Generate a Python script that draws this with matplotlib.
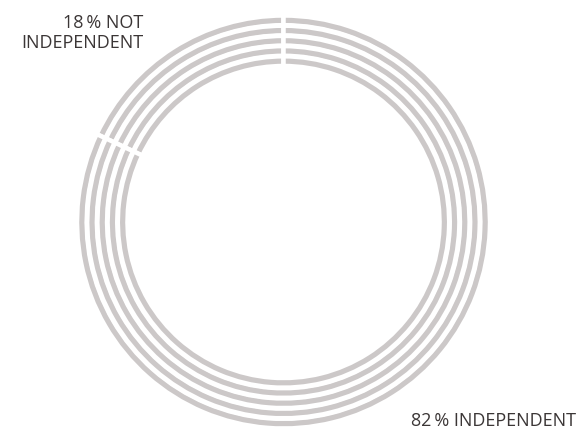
import matplotlib
matplotlib.use("Agg")
import matplotlib.pyplot as plt

# Data
categories = ["NOT INDEPENDENT", "INDEPENDENT"]
shares = [18, 82]
n_rings = 5
labels = ["18\u2009% NOT\nINDEPENDENT", "82\u2009% INDEPENDENT"]

ring_color = "#ccc8c8"
text_color = "#3b3636"

W, H = 585, 431
fig = plt.figure(figsize=(W / 100, H / 100), dpi=100)
ax = fig.add_axes([0, 0, 1, 1])

cx, cy = 283.5, H - 223
outer_r = 206.5
step = 10.2
gap_px = 4.5
ring_px = 5.2
lw_pt = gap_px * 72 / 100

for i in range(n_rings):
    r = outer_r - i * step
    ax.pie(shares, radius=r, center=(cx, cy), startangle=90, counterclock=True,
           colors=[ring_color] * len(shares),
           wedgeprops=dict(width=ring_px + gap_px, edgecolor="white", linewidth=lw_pt),
           frame=True)

ax.set_xlim(0, W)
ax.set_ylim(0, H)
ax.set_aspect("auto")
ax.axis("off")

font = ["Open Sans", "DejaVu Sans"]
ax.text(143, H - 48, labels[0], ha="right", va="baseline", fontsize=13,
        color=text_color, family=font, linespacing=1.15)
ax.text(576, H - 426, labels[1], ha="right", va="baseline", fontsize=13,
        color=text_color, family=font)

fig.savefig("out.png", dpi=100)
